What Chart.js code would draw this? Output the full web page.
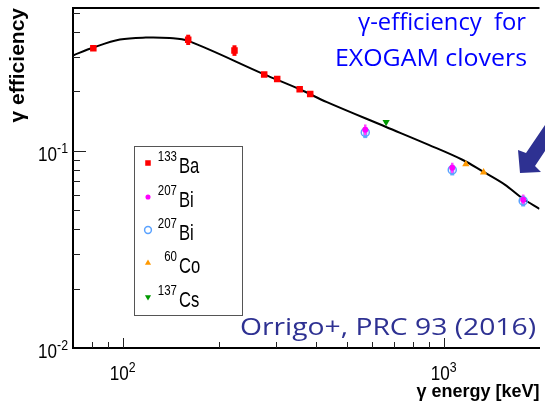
<!DOCTYPE html>
<html>
<head>
<meta charset="utf-8">
<script src="https://cdn.jsdelivr.net/npm/chart.js@4.4.1/dist/chart.umd.min.js"></script>
<style>
  html, body { margin: 0; padding: 0; background: #fff; overflow: hidden; }
  #wrap { position: relative; width: 545px; height: 407px; }
</style>
</head>
<body>
<div id="wrap"><canvas id="effChart" width="545" height="407"></canvas></div>
<script>
// gamma energies in keV, full-energy peak efficiency as a fraction
const baEnergy = [81, 160, 223, 276, 303, 356, 384];
const baEff = [0.331, 0.366, 0.323, 0.244, 0.231, 0.205, 0.194];
const baErr = [0.006, 0.022, 0.020, 0.005, 0.005, 0.004, 0.004];

const biEnergy = [570, 1064, 1770];
const biEff = [0.128, 0.082, 0.0565];
const biErr = [0.008, 0.005, 0.0035];
const biOpenEff = [0.124, 0.080, 0.0557];

const coEnergy = [1173, 1332];
const coEff = [0.0855, 0.0778];

const csEnergy = [662];
const csEff = [0.140];

// fitted efficiency curve
const fitEnergy = [70, 81, 98, 118, 140, 160, 276, 356, 433, 662, 899, 1144, 1327, 1551, 1763, 1990];
const fitEff = [0.3045, 0.334, 0.3666, 0.3753, 0.3731, 0.3611, 0.2443, 0.2052, 0.1765, 0.1321, 0.1072, 0.0901, 0.0784, 0.0674, 0.0573, 0.0508];

// labelled decades
const xTickValues = [100, 1000];
const xTickExps = ['2', '3'];
const yTickValues = [0.01, 0.1];
const yTickExps = ['-2', '-1'];

const legendMass = ['133', '207', '207', '60', '137'];
const legendName = ['Ba', 'Bi', 'Bi', 'Co', 'Cs'];

const SANS = '"Liberation Sans", Arial, Helvetica, sans-serif';
const SLIDE = '"Open Sans", "Noto Sans", sans-serif';

function pts(xs, ys) {
    return xs.map((x, i) => ({ x: x, y: ys[i] }));
}

function drawText(ctx, str, x, y, size, o) {
    o = o || {};
    ctx.save();
    ctx.translate(x, y);
    ctx.scale(o.sx || 1, o.sy || 1);
    ctx.font = (o.weight || 'normal') + ' ' + size + 'px ' + (o.family || SANS);
    ctx.fillStyle = o.color || '#000';
    ctx.textAlign = o.align || 'left';
    ctx.textBaseline = 'alphabetic';
    ctx.fillText(str, 0, 0);
    ctx.restore();
}

function textWidth(ctx, str, size, o) {
    o = o || {};
    ctx.save();
    ctx.font = (o.weight || 'normal') + ' ' + size + 'px ' + (o.family || SANS);
    const w = ctx.measureText(str).width * (o.sx || 1);
    ctx.restore();
    return w;
}

// squeeze a slide caption to the width it has in the picture
function fitText(ctx, str, x, y, width, size, color) {
    const w = textWidth(ctx, str, size, { family: SLIDE });
    drawText(ctx, str, x, y, size, { family: SLIDE, sx: width / w, color: color });
}

function isDecade(v) {
    const l = Math.log10(v);
    return Math.abs(l - Math.round(l)) < 1e-6;
}

function isWholeStep(v) {
    const m = v / Math.pow(10, Math.floor(Math.log10(v) + 1e-9));
    return Math.abs(m - Math.round(m)) < 1e-6;
}

const errorBars = {
    id: 'errorBars',
    beforeDatasetsDraw(chart) {
        const ctx = chart.ctx;
        const xs = chart.scales.x, ys = chart.scales.y;
        for (let d = chart.data.datasets.length - 1; d >= 0; d--) {
            const ds = chart.data.datasets[d];
            if (!ds.errors) continue;
            ctx.save();
            ctx.strokeStyle = ds.errColor;
            ctx.lineWidth = ds.errWidth;
            ds.data.forEach((p, i) => {
                const px = xs.getPixelForValue(p.x);
                ctx.beginPath();
                ctx.moveTo(px, ys.getPixelForValue(p.y - ds.errors[i]));
                ctx.lineTo(px, ys.getPixelForValue(p.y + ds.errors[i]));
                ctx.stroke();
            });
            ctx.restore();
        }
    }
};

const rootFrame = {
    id: 'rootFrame',
    afterDraw(chart) {
        const ctx = chart.ctx;
        const area = chart.chartArea;
        const xs = chart.scales.x, ys = chart.scales.y;

        // top edge of the frame
        ctx.save();
        ctx.strokeStyle = '#000';
        ctx.lineWidth = 2;
        ctx.beginPath();
        ctx.moveTo(area.left - 1, area.top);
        ctx.lineTo(area.right, area.top);
        ctx.stroke();

        // ticks pointing into the frame
        ctx.lineWidth = 1;
        ctx.strokeStyle = '#222';
        xs.ticks.forEach(t => {
            if (!isWholeStep(t.value)) return;
            const px = Math.round(xs.getPixelForValue(t.value)) + 0.5;
            if (px < area.left + 2) return;
            const len = isDecade(t.value) ? 10 : 6;
            ctx.beginPath();
            ctx.moveTo(px, area.bottom);
            ctx.lineTo(px, area.bottom - len);
            ctx.stroke();
        });
        ys.ticks.forEach(t => {
            if (!isWholeStep(t.value)) return;
            const py = Math.round(ys.getPixelForValue(t.value)) + 0.5;
            if (py > area.bottom - 2) return;
            const len = isDecade(t.value) ? 13 : 7;
            ctx.beginPath();
            ctx.moveTo(area.left, py);
            ctx.lineTo(area.left + len, py);
            ctx.stroke();
        });
        ctx.restore();

        // decade labels 10^n
        const base = 18, exp = 13;
        xTickValues.forEach((v, i) => {
            const px = xs.getPixelForValue(v);
            const wb = textWidth(ctx, '10', base, { sx: 0.95 });
            const we = textWidth(ctx, xTickExps[i], exp, { sx: 0.95 });
            const x0 = px - (wb + we) / 2;
            drawText(ctx, '10', x0, 380, base, { sx: 0.95, sy: 1.15 });
            drawText(ctx, xTickExps[i], x0 + wb, 372, exp, { sx: 0.95, sy: 1.1 });
        });
        yTickValues.forEach((v, i) => {
            const py = ys.getPixelForValue(v);
            const right = area.left - 5;
            const we = textWidth(ctx, yTickExps[i], exp, { sx: 0.95 });
            drawText(ctx, yTickExps[i], right, py + 2, exp, { sx: 0.95, sy: 1.1, align: 'right' });
            drawText(ctx, '10', right - we, py + 10, base, { sx: 0.95, sy: 1.15, align: 'right' });
        });

        // legend box
        const lx = 134, ly = 146, lw = 108, lh = 169;
        ctx.save();
        ctx.fillStyle = '#fff';
        ctx.strokeStyle = '#555';
        ctx.lineWidth = 1;
        ctx.fillRect(lx, ly, lw, lh);
        ctx.strokeRect(lx + 0.5, ly + 0.5, lw, lh);
        ctx.restore();
        const rowY = [173, 207, 240, 273, 307];
        legendName.forEach((name, i) => {
            const ds = chart.data.datasets[i];
            ctx.save();
            ctx.fillStyle = ds.backgroundColor;
            ctx.strokeStyle = ds.borderColor;
            ctx.lineWidth = ds.borderWidth;
            Chart.helpers.drawPoint(ctx, {
                pointStyle: ds.pointStyle,
                radius: ds.pointRadius * 0.85,
                rotation: ds.rotation || 0,
                borderWidth: ds.borderWidth
            }, 148, rowY[i] - 10);
            ctx.restore();
            drawText(ctx, legendMass[i], 177, rowY[i] - 12, 11.5, { sy: 1.2, align: 'right' });
            drawText(ctx, name, 179, rowY[i], 17.5, { sx: 0.95, sy: 1.3 });
        });

        // slide captions
        fitText(ctx, 'γ-efficiency  for', 358, 30, 168, 24, '#0000ff');
        fitText(ctx, 'EXOGAM clovers', 335, 66, 192, 24, '#0000ff');
        fitText(ctx, 'Orrigo+, PRC 93 (2016)', 240, 335, 296, 24, '#2e3192');

        // arrow pointing at the curve
        ctx.save();
        ctx.fillStyle = '#2e3192';
        ctx.beginPath();
        ctx.moveTo(547, 122);
        ctx.lineTo(526, 153);
        ctx.lineTo(518, 150);
        ctx.lineTo(520, 173);
        ctx.lineTo(541, 172);
        ctx.lineTo(535, 166);
        ctx.lineTo(547, 148);
        ctx.closePath();
        ctx.fill();
        ctx.restore();
    }
};

const ctx = document.getElementById('effChart').getContext('2d');
new Chart(ctx, {
    type: 'scatter',
    data: {
        datasets: [
            {
                label: '133Ba',
                data: pts(baEnergy, baEff),
                errors: baErr, errColor: '#ff0000', errWidth: 4,
                pointStyle: 'rect', pointRadius: 4.6,
                backgroundColor: '#ff0000', borderColor: '#ff0000', borderWidth: 0
            },
            {
                label: '207Bi',
                data: pts(biEnergy, biEff),
                errors: biErr, errColor: '#ff44ff', errWidth: 2.5,
                pointStyle: 'circle', pointRadius: 3,
                backgroundColor: '#ff00ff', borderColor: '#ff00ff', borderWidth: 0
            },
            {
                label: '207Bi',
                data: pts(biEnergy, biOpenEff),
                errors: biErr, errColor: '#66aaff', errWidth: 4,
                pointStyle: 'circle', pointRadius: 4,
                backgroundColor: 'rgba(0,0,0,0)', borderColor: '#5aa2ff', borderWidth: 1.5
            },
            {
                label: '60Co',
                data: pts(coEnergy, coEff),
                pointStyle: 'triangle', pointRadius: 4.2,
                backgroundColor: '#ff9900', borderColor: '#ff9900', borderWidth: 0
            },
            {
                label: '137Cs',
                data: pts(csEnergy, csEff),
                pointStyle: 'triangle', rotation: 180, pointRotation: 180, pointRadius: 4.2,
                backgroundColor: '#009900', borderColor: '#009900', borderWidth: 0
            },
            {
                type: 'line',
                label: 'fit',
                data: pts(fitEnergy, fitEff),
                borderColor: '#000', borderWidth: 2,
                pointRadius: 0, fill: false,
                tension: 0.35
            }
        ]
    },
    options: {
        responsive: false,
        animation: false,
        events: [],
        layout: { padding: { top: 8, right: 0, left: 0, bottom: 0 } },
        plugins: {
            legend: { display: false },
            tooltip: { enabled: false }
        },
        scales: {
            x: {
                type: 'logarithmic',
                min: 70,
                max: 1990,
                grid: { display: false },
                ticks: { display: false },
                border: { color: '#000', width: 2 },
                title: {
                    display: true,
                    text: 'γ energy [keV]',
                    align: 'end',
                    color: '#000',
                    font: { family: SANS, size: 18, weight: 'bold' },
                    padding: { top: 0, bottom: 4 }
                },
                afterFit(scale) { scale.height = 59; }
            },
            y: {
                type: 'logarithmic',
                min: 0.01,
                max: 0.53,
                grid: { display: false },
                ticks: { display: false },
                border: { color: '#000', width: 2 },
                title: {
                    display: true,
                    text: 'γ efficiency',
                    align: 'end',
                    color: '#000',
                    font: { family: SANS, size: 21, weight: 'bold' },
                    padding: { top: 6, bottom: 0 }
                },
                afterFit(scale) { scale.width = 73; }
            }
        }
    },
    plugins: [errorBars, rootFrame]
});
</script>
</body>
</html>
